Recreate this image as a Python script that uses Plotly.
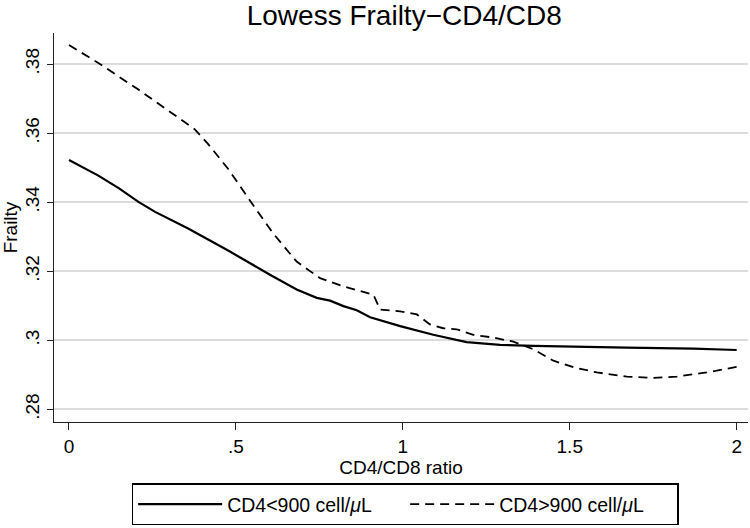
import plotly.graph_objects as go

# CD4 < 900 cell/uL (solid)
x_low = [0.0, 0.088, 0.15, 0.208, 0.258, 0.357, 0.482, 0.542, 0.602, 0.682, 0.742, 0.782,
         0.822, 0.862, 0.902, 0.992, 1.091, 1.191, 1.291, 1.391, 1.471, 1.591, 1.671, 1.870, 2.0]
y_low = [0.3522, 0.3477, 0.3440, 0.3401, 0.3372, 0.3324, 0.3257, 0.3223, 0.3190, 0.3147, 0.3123, 0.3115,
         0.3099, 0.3087, 0.3067, 0.3041, 0.3016, 0.2995, 0.2987, 0.2984, 0.2982, 0.2981, 0.2979, 0.2976, 0.2972]

# CD4 > 900 cell/uL (dashed)
x_high = [0.0, 0.088, 0.208, 0.308, 0.377, 0.417, 0.477, 0.552, 0.612, 0.682, 0.752, 0.822,
          0.912, 0.932, 0.992, 1.042, 1.081, 1.121, 1.161, 1.211, 1.271, 1.331, 1.391, 1.451,
          1.511, 1.581, 1.671, 1.751, 1.821, 1.910, 2.0]
y_high = [0.3855, 0.3803, 0.3726, 0.3659, 0.3611, 0.3568, 0.3496, 0.3391, 0.3309, 0.3228, 0.3180, 0.3156,
          0.3132, 0.3089, 0.3084, 0.3075, 0.3046, 0.3035, 0.3032, 0.3016, 0.3008, 0.2996, 0.2974, 0.2941,
          0.2922, 0.2907, 0.2895, 0.2891, 0.2895, 0.2907, 0.2923]

x_ticks = [0, 0.5, 1, 1.5, 2]
x_ticktext = ["0", ".5", "1", "1.5", "2"]
y_ticks = [0.28, 0.30, 0.32, 0.34, 0.36, 0.38]
y_ticktext = [".28", ".3", ".32", ".34", ".36", ".38"]

FONT = "Liberation Sans, Arial, Helvetica, sans-serif"

fig = go.Figure()
fig.add_trace(go.Scatter(x=x_low, y=y_low, mode="lines", name="CD4<900 cell/<i>μ</i>L",
                         line=dict(color="black", width=2.2)))
fig.add_trace(go.Scatter(x=x_high, y=y_high, mode="lines", name="CD4>900 cell/<i>μ</i>L\u00a0\u00a0",
                         line=dict(color="black", width=1.8, dash="9px,6px")))

fig.update_layout(
    width=750, height=528,
    margin=dict(l=54, r=2, t=33, b=103),
    paper_bgcolor="white", plot_bgcolor="white",
    font=dict(family=FONT, size=19, color="black"),
    title=dict(text="Lowess Frailty−CD4/CD8", x=0.539, xanchor="center", y=0.972, yanchor="middle",
               font=dict(size=28, family=FONT, color="black")),
    showlegend=True,
    legend=dict(orientation="h", x=0.506, xanchor="center", y=-0.158, yanchor="top",
                bordercolor="black", borderwidth=1.5, bgcolor="white",
                font=dict(size=19.5, family=FONT), itemwidth=84,
                entrywidth=173, entrywidthmode="pixels", tracegroupgap=0),
    xaxis=dict(range=[-0.0449, 2.0339], tickvals=x_ticks, ticktext=x_ticktext, automargin=False,
               showgrid=False, zeroline=False, showline=True, linecolor="#222", linewidth=1.4,
               ticks="outside", ticklen=7, tickcolor="#222", tickwidth=1.3,
               title=dict(text="CD4/CD8 ratio", standoff=4, font=dict(size=19))),
    yaxis=dict(range=[0.27635, 0.38899], tickvals=y_ticks, ticktext=y_ticktext, tickangle=-90,
               automargin=False,
               showgrid=True, gridcolor="#dcdcdc", gridwidth=1.6, zeroline=False,
               showline=True, linecolor="#222", linewidth=1.4,
               ticks="outside", ticklen=6, tickcolor="#222", tickwidth=1.3,
               title=dict(text="Frailty", standoff=2, font=dict(size=19))),
)

fig.write_html("out.html", config={"displayModeBar": False},
               post_script="document.body.style.margin='0';")
